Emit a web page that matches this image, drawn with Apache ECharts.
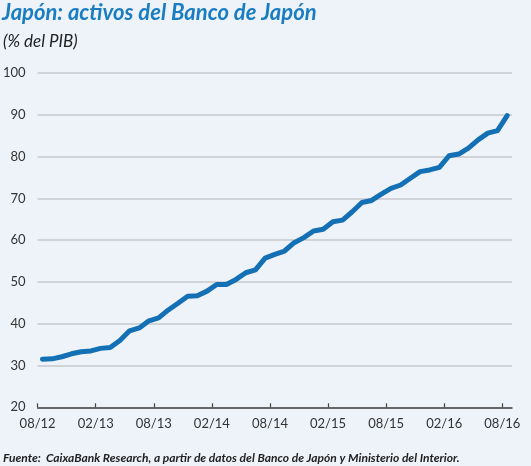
<!DOCTYPE html>
<html>
<head>
<meta charset="utf-8">
<script src="https://cdn.jsdelivr.net/npm/echarts@6/dist/echarts.min.js"></script>
<style>
html,body{margin:0;padding:0;background:#eef2f9;}
#c{width:531px;height:466px;}
</style>
</head>
<body>
<div id="c"></div>
<script>
var months = ['08/12','09/12','10/12','11/12','12/12','01/13','02/13','03/13','04/13','05/13','06/13','07/13',
  '08/13','09/13','10/13','11/13','12/13','01/14','02/14','03/14','04/14','05/14','06/14','07/14',
  '08/14','09/14','10/14','11/14','12/14','01/15','02/15','03/15','04/15','05/15','06/15','07/15',
  '08/15','09/15','10/15','11/15','12/15','01/16','02/16','03/16','04/16','05/16','06/16','07/16','08/16'];
var assets = [31.5,31.6,32.1,32.8,33.3,33.5,34.1,34.3,36.0,38.3,39.0,40.7,
  41.4,43.3,44.9,46.6,46.7,47.8,49.4,49.4,50.6,52.2,52.9,55.7,
  56.6,57.4,59.4,60.6,62.2,62.6,64.4,64.8,66.8,69.0,69.5,71.0,
  72.4,73.2,74.8,76.4,76.8,77.4,80.2,80.6,82.0,84.0,85.6,86.2,89.8];
var tickLabels = ['08/12','02/13','08/13','02/14','08/14','02/15','08/15','02/16','08/16'];
var tickPositions = [0,6,12,18,24,30,36,42,48];

var chart = echarts.init(document.getElementById('c'), null, {renderer:'canvas'});
var fontMain = 'Lato, "Noto Sans", sans-serif';
chart.setOption({
  backgroundColor:'#eef2f9',
  animation:false,
  title:[
    {text:'Japón: activos del Banco de Japón', left:2, top:2, padding:0,
     textStyle:{color:'#1a7dc2', fontSize:22, fontWeight:'bold', fontStyle:'italic', fontFamily:fontMain}},
    {text:'(% del PIB)', left:3, top:33, padding:0,
     textStyle:{color:'#222', fontSize:17, fontWeight:'normal', fontStyle:'italic', fontFamily:fontMain}},
    {text:'{b|Fuente:} {i|CaixaBank Research, a partir de datos del Banco de Japón y Ministerio del Interior.}',
     left:3, top:449, padding:0,
     textStyle:{rich:{
       b:{fontSize:12, fontWeight:'bold', fontStyle:'italic', color:'#222', fontFamily:fontMain},
       i:{fontSize:12, fontStyle:'italic', color:'#222', fontFamily:fontMain}
     }}}
  ],
  grid:{left:37, right:19, top:73, bottom:58.7, containLabel:false},
  xAxis:[
    {type:'category', data:months, boundaryGap:true, show:false},
    {type:'value', min:0, max:49, position:'bottom',
     axisLine:{show:true, lineStyle:{color:'#444', width:1.5}},
     axisTick:{show:true, inside:true, length:4, customValues:tickPositions, lineStyle:{color:'#444', width:1.2}},
     axisLabel:{show:true, customValues:tickPositions, margin:10, color:'#333', fontSize:13, fontFamily:fontMain,
       formatter:function(v){var i=tickPositions.indexOf(v); return i>=0?tickLabels[i]:'';}},
     splitLine:{show:false}}
  ],
  yAxis:{type:'value', min:20, max:100, interval:10,
    axisLine:{show:false}, axisTick:{show:false},
    axisLabel:{color:'#333', fontSize:13, margin:12, fontFamily:fontMain},
    splitLine:{lineStyle:{color:'#c6c8cd', width:1.5}}},
  series:[{type:'line', xAxisIndex:0, data:assets, symbol:'none', smooth:false,
    lineStyle:{color:'#1470b4', width:5, cap:'round', join:'round'}}]
});
</script>
</body>
</html>
